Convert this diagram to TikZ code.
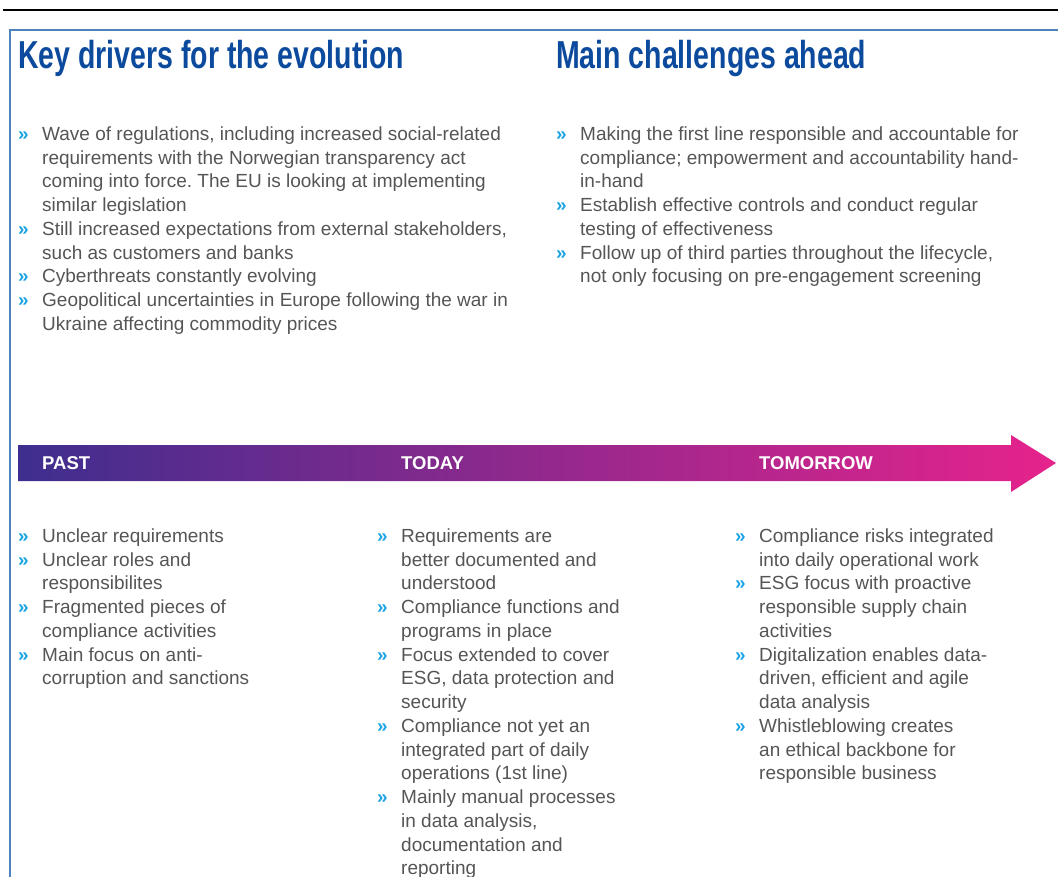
\documentclass[tikz,border=0pt]{standalone}
\usepackage{fontspec}
\setmainfont{Liberation Sans}
\newfontfamily\headfont[FakeStretch=0.73]{Liberation Sans}
\frenchspacing

\definecolor{headblue}{HTML}{0B4A9C}
\definecolor{frameblue}{HTML}{4F81BD}
\definecolor{bulblue}{HTML}{1AA3E3}
\definecolor{bodygray}{HTML}{555555}
\definecolor{pastc}{HTML}{3E2E8E}
\definecolor{todayc}{HTML}{8E2A8E}
\definecolor{tomorrowc}{HTML}{E6238C}

% a chevron bullet hanging left of the item text
\newcommand{\bul}{\llap{\makebox[24pt][l]{\textcolor{bulblue}{\bfseries »}}}}

\begin{document}
\begin{tikzpicture}[x=1pt,y=-1pt,
    heading/.style={anchor=base west,inner sep=0pt,text=headblue,
      font=\headfont\bfseries\fontsize{39}{39}\selectfont},
    % lists hang from their top edge, first baseline 15pt below it
    itemlist/.style={anchor=north west,inner sep=0pt,align=left,text=bodygray,
      font=\fontsize{19}{23.75}\selectfont,execute at begin node=\rule{0pt}{15pt}},
    phase/.style={anchor=base west,inner sep=0pt,text=white,
      font=\bfseries\fontsize{18.5}{18.5}\selectfont}]
  \useasboundingbox (0,0) rectangle (1058,877);
  \draw[line width=2pt] (3,10)--(1058,10);
  \draw[frameblue,line width=1.5pt] (10,880)--(10,30)--(1060,30);

  \node[heading] (drivers) at (18,69) {Key drivers for the evolution};
  \node[heading] (challenges) at (556,69) {Main challenges ahead};

  \node[itemlist] (driverlist) at (42,126.5) {%
    \bul Wave of regulations, including increased social-related\\
    requirements with the Norwegian transparency act\\
    coming into force. The EU is looking at implementing\\
    similar legislation\\
    \bul Still increased expectations from external stakeholders,\\
    such as customers and banks\\
    \bul Cyberthreats constantly evolving\\
    \bul Geopolitical uncertainties in Europe following the war in\\
    Ukraine affecting commodity prices};
  \node[itemlist] (challengelist) at (580,126.5) {%
    \bul Making the first line responsible and accountable for\\
    compliance; empowerment and accountability hand-\\
    in-hand\\
    \bul Establish effective controls and conduct regular\\
    testing of effectiveness\\
    \bul Follow up of third parties throughout the lifecycle,\\
    not only focusing on pre-engagement screening};

  % timeline arrow, shaded from past to tomorrow
  \shade[left color=pastc,middle color=todayc,right color=tomorrowc]
    (18,445)--(1011,445)--(1011,435)--(1056,463)--(1011,492)--(1011,481)--(18,481)--cycle;
  \node[phase] (past) at (42,469.5) {PAST};
  \node[phase] (today) at (401,469.5) {TODAY};
  \node[phase] (tomorrow) at (759,469.5) {TOMORROW};

  \node[itemlist] (pastlist) at (42,528.5) {%
    \bul Unclear requirements\\
    \bul Unclear roles and\\
    responsibilites\\
    \bul Fragmented pieces of\\
    compliance activities\\
    \bul Main focus on anti-\\
    corruption and sanctions};
  \node[itemlist] (todaylist) at (401,528.5) {%
    \bul Requirements are\\
    better documented and\\
    understood\\
    \bul Compliance functions and\\
    programs in place\\
    \bul Focus extended to cover\\
    ESG, data protection and\\
    security\\
    \bul Compliance not yet an\\
    integrated part of daily\\
    operations (1st line)\\
    \bul Mainly manual processes\\
    in data analysis,\\
    documentation and\\
    reporting};
  \node[itemlist] (tomorrowlist) at (759,528.5) {%
    \bul Compliance risks integrated\\
    into daily operational work\\
    \bul ESG focus with proactive\\
    responsible supply chain\\
    activities\\
    \bul Digitalization enables data-\\
    driven, efficient and agile\\
    data analysis\\
    \bul Whistleblowing creates\\
    an ethical backbone for\\
    responsible business};
\end{tikzpicture}
\end{document}
